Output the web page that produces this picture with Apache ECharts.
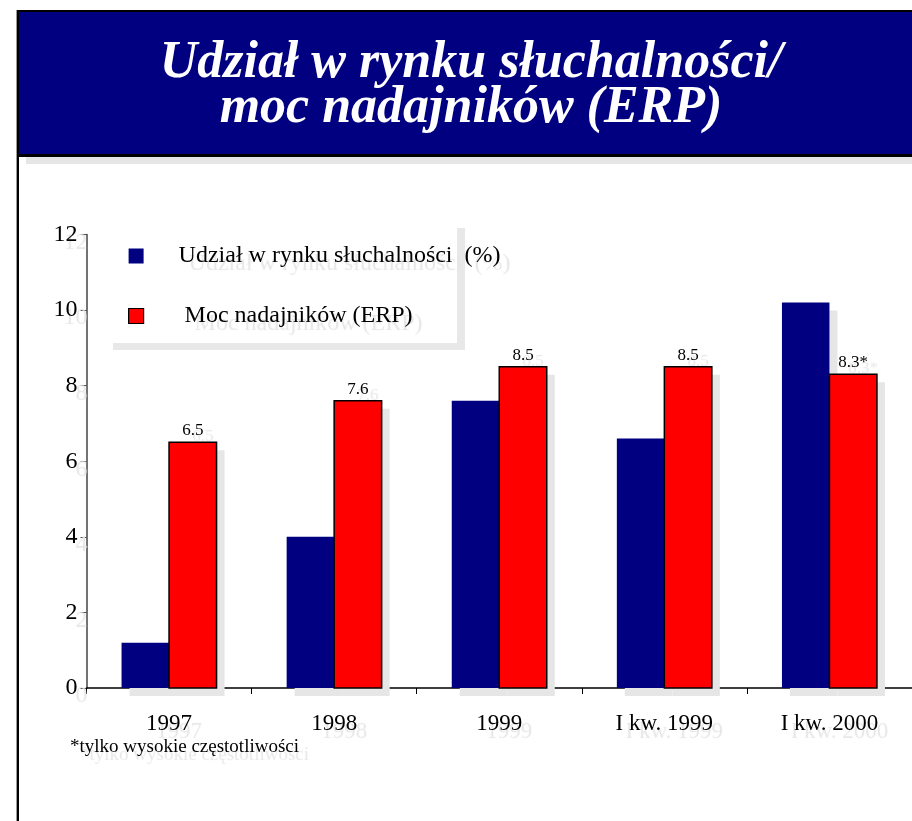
<!DOCTYPE html>
<html>
<head>
<meta charset="utf-8">
<script src="https://cdn.jsdelivr.net/npm/echarts@6/dist/echarts.min.js"></script>
<style>
html,body{margin:0;padding:0;background:#fff;overflow:hidden;}
#c{width:912px;height:821px;}
</style>
</head>
<body>
<div id="c"></div>
<script>
var categories = ['1997', '1998', '1999', 'I kw. 1999', 'I kw. 2000'];
var shareValues = [1.2, 4.0, 7.6, 6.6, 10.2];
var powerValues = [6.5, 7.6, 8.5, 8.5, 8.3];
var powerLabels = ['6.5', '7.6', '8.5', '8.5', '8.3*'];
var yTicks = [0, 2, 4, 6, 8, 10, 12];
var seriesNames = ['Udział w rynku słuchalności  (%)', ' Moc nadajników (ERP)'];
var titleText = 'Udział w rynku słuchalności/\nmoc nadajników (ERP)';
var footnote = '*tylko wysokie częstotliwości';

var FONT = '"Liberation Serif", "Times New Roman", serif';
var SH = '#e6e6e6';
var BAR_W = 47.5;

var chart = echarts.init(document.getElementById('c'), null, {renderer: 'canvas'});
var textShadow = {textShadowColor: SH, textShadowBlur: 1, textShadowOffsetX: 10, textShadowOffsetY: 8};
var option = {
  animation: false,
  backgroundColor: '#ffffff',
  title: {
    text: titleText,
    left: 466,
    top: 36,
    textAlign: 'center',
    textStyle: {
      color: '#ffffff',
      fontFamily: FONT,
      fontStyle: 'italic',
      fontWeight: 'bold',
      fontSize: 52,
      lineHeight: 45
    }
  },
  graphic: [
    {type: 'rect', z: -10, shape: {x: 16, y: 10, width: 1, height: 900}, style: {fill: '#999999'}},
    {type: 'rect', z: -10, shape: {x: 17, y: 10, width: 1000, height: 1000}, style: {fill: '#000000'}},
    {type: 'rect', z: -9, shape: {x: 19, y: 12, width: 1000, height: 142}, style: {fill: '#000080'}},
    {type: 'rect', z: -9, shape: {x: 19, y: 157, width: 1000, height: 900}, style: {fill: '#ffffff'}},
    {type: 'rect', z: -8, shape: {x: 26, y: 157, width: 1000, height: 7}, style: {fill: '#e6e6e6'}},
    {type: 'rect', z: -8, shape: {x: 113, y: 228, width: 352, height: 122}, style: {fill: '#e8e8e8'}},
    {type: 'rect', z: -7, shape: {x: 105, y: 220, width: 352, height: 123}, style: {fill: '#ffffff'}},
    {type: 'text', z: 5, left: 70, top: 738, style: {
      text: footnote, fill: '#000', font: '19px ' + FONT,
      textShadowColor: SH, textShadowBlur: 1, textShadowOffsetX: 10, textShadowOffsetY: 8
    }}
  ],
  legend: {
    orient: 'vertical',
    left: 128,
    top: 244,
    padding: 0,
    itemGap: 36,
    itemWidth: 15,
    itemHeight: 15,
    icon: 'rect',
    data: [
      {name: seriesNames[0], itemStyle: {borderWidth: 0}},
      {name: seriesNames[1], itemStyle: {borderColor: '#000', borderWidth: 1.2}}
    ],
    itemStyle: {shadowColor: 'rgba(0,0,0,0)', shadowOffsetX: 0, shadowOffsetY: 0, shadowBlur: 0},
    textStyle: Object.assign({
      fontFamily: FONT, fontSize: 24, color: '#000', lineHeight: 24,
      padding: [0, 0, 0, 30]
    }, textShadow)
  },
  grid: {left: 86.5, top: 234.5, width: 832.5, height: 453.5, containLabel: false},
  xAxis: {
    type: 'category',
    data: categories,
    boundaryGap: true,
    axisLine: {lineStyle: {color: '#000', width: 1.5}},
    axisTick: {show: true, inside: false, length: 6, lineStyle: {color: '#000'}},
    axisLabel: Object.assign({
      margin: 24, fontFamily: FONT, fontSize: 23, color: '#000'
    }, textShadow),
    splitLine: {show: false}
  },
  yAxis: {
    type: 'value',
    min: yTicks[0],
    max: yTicks[yTicks.length - 1],
    interval: 2,
    axisLine: {show: true, lineStyle: {color: '#444', width: 1.5}},
    axisTick: {show: true, inside: false, length: 6, lineStyle: {color: '#444'}},
    axisLabel: Object.assign({
      margin: 9, fontFamily: FONT, fontSize: 24, color: '#000'
    }, textShadow),
    splitLine: {show: false}
  },
  series: [
    {
      name: seriesNames[0],
      type: 'bar',
      data: shareValues,
      barWidth: BAR_W,
      barGap: '0%',
      itemStyle: {color: '#000080', shadowColor: '#e6e6e6', shadowOffsetX: 8, shadowOffsetY: 8, shadowBlur: 0}
    },
    {
      name: seriesNames[1],
      type: 'bar',
      data: powerValues,
      barWidth: BAR_W,
      barGap: '0%',
      itemStyle: {color: '#ff0000', shadowColor: '#e6e6e6', shadowOffsetX: 8, shadowOffsetY: 8, shadowBlur: 0},
      label: Object.assign({
        show: true, position: 'top', distance: 3,
        fontFamily: FONT, fontSize: 17, color: '#000',
        formatter: function (p) { return powerLabels[p.dataIndex]; }
      }, textShadow, {textShadowOffsetY: 6})
    },
    {
      name: 'outline',
      type: 'custom',
      z: 3,
      silent: true,
      data: powerValues.map(function (v, i) { return [i, v]; }),
      encode: {x: 0, y: 1},
      renderItem: function (params, api) {
        var top = api.coord([api.value(0), api.value(1)]);
        var base = api.coord([api.value(0), 0]);
        return {
          type: 'rect',
          shape: {x: top[0], y: top[1], width: BAR_W, height: base[1] - top[1]},
          style: {fill: 'none', stroke: '#000', lineWidth: 1.5}
        };
      }
    }
  ]
};
chart.setOption(option);
</script>
</body>
</html>
